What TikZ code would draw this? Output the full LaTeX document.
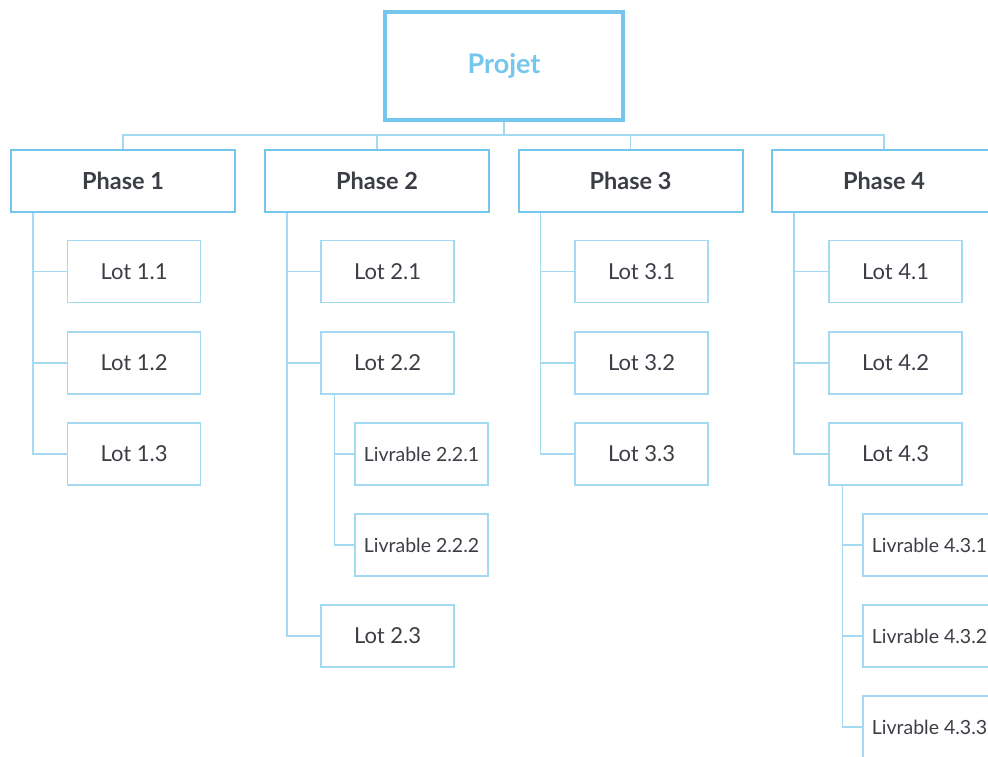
\documentclass[tikz,border=0pt]{standalone}
\usepackage{fontspec}
\setmainfont{Lato}
\usetikzlibrary{calc, positioning}

\definecolor{wbsblue}{RGB}{116,198,236}
\definecolor{wbslight}{RGB}{163,217,241}
\definecolor{wbstext}{RGB}{60,62,70}

\tikzset{
  projbox/.style={draw=wbsblue, line width=4pt, minimum width=238pt, minimum height=108pt,
    text=wbsblue, font=\fontsize{27}{31}\selectfont\bfseries},
  phasebox/.style={draw=wbsblue, line width=2pt, minimum width=224pt, minimum height=62pt,
    text=wbstext, font=\fontsize{23.5}{27}\selectfont\bfseries},
  lotbox/.style={draw=wbslight, line width=1.5pt, minimum width=133pt, minimum height=62pt,
    text=wbstext, font=\fontsize{22}{26}\selectfont},
  livbox/.style={lotbox, font=\fontsize{19.5}{23}\selectfont},
  link/.style={draw=wbslight, line width=1.5pt},
}

\begin{document}
\begin{tikzpicture}[x=1pt,y=-1pt]
\useasboundingbox (0,0) rectangle (988,757);
\clip (0,0) rectangle (988,757);

% top
\node[projbox] (proj) at (504,66) {Projet};
\coordinate (bus) at ($(proj.south)+(0,13)$);

% phases and their lots
\foreach \i/\x in {1/123, 2/377, 3/630.5, 4/884}{
  \node[phasebox] (p\i) at (\x,181) {Phase \i};
  \draw[link] (bus) -| (p\i.north);
}
\draw[link] (proj.south) -- (bus);

\foreach \i/\x in {1/134, 2/387.5, 3/641.5, 4/895.5}{
  \foreach \j/\y in {1/271.5, 2/363}{
    \node[lotbox] (l\i-\j) at (\x,\y) {Lot \i.\j};
    \draw[link] ($(p\i.south west)+(23,0)$) |- (l\i-\j.west);
  }
}
\foreach \i/\x in {1/134, 3/641.5, 4/895.5}{
  \node[lotbox] (l\i-3) at (\x,454) {Lot \i.3};
  \draw[link] ($(p\i.south west)+(23,0)$) |- (l\i-3.west);
}
\node[lotbox] (l2-3) at (387.5,636) {Lot 2.3};
\draw[link] ($(p2.south west)+(23,0)$) |- (l2-3.west);

% deliverables
\foreach \k/\y in {1/454, 2/545}{
  \node[livbox] (v22-\k) at (421.5,\y) {Livrable 2.2.\k};
  \draw[link] ($(l2-2.south west)+(14,0)$) |- (v22-\k.west);
}
\foreach \k/\y in {1/545, 2/636, 3/727}{
  \node[livbox] (v43-\k) at (929.5,\y) {Livrable 4.3.\k};
  \draw[link] ($(l4-3.south west)+(14,0)$) |- (v43-\k.west);
}
\end{tikzpicture}
\end{document}
